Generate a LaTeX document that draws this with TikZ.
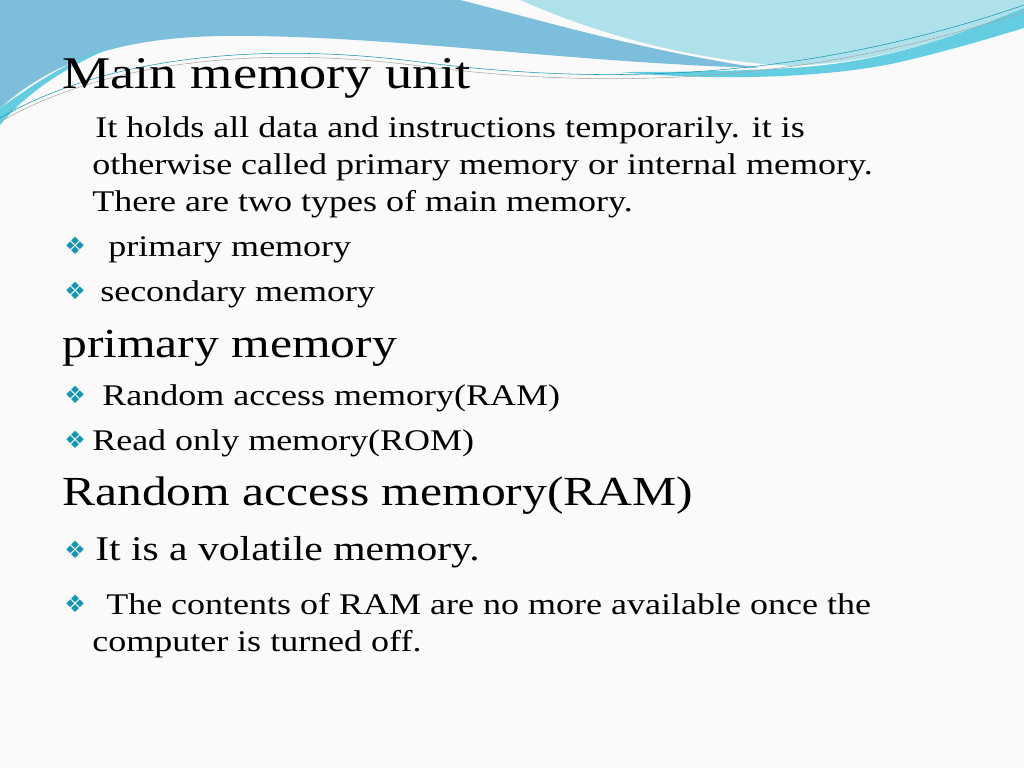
\documentclass[tikz,border=0pt]{standalone}
\usepackage{fontspec}
\setmainfont[FakeStretch=1.2]{Liberation Serif}
\newfontfamily\symf{DejaVu Sans}
\definecolor{bul}{RGB}{20,150,175}
\definecolor{bluea}{RGB}{125,190,220}
\definecolor{blueb}{RGB}{100,205,225}
\definecolor{bluec}{RGB}{175,225,235}
\begin{document}
\begin{tikzpicture}[x=0.75pt,y=-0.75pt,
 body/.style={anchor=base west,inner sep=0pt,font=\fontsize{22.5}{26}\selectfont},
 head/.style={anchor=base west,inner sep=0pt,font=\fontsize{31}{36}\selectfont},
 bl/.style={anchor=base west,inner sep=0pt,text=bul,font=\symf\fontsize{18}{20}\selectfont}]
\useasboundingbox (0,0) rectangle (1024,768);
\fill[white!96!gray] (0,0) rectangle (1024,768);
% banner
\fill[bluea] (0,0) -- (0,108) .. controls (60,55) and (130,38) .. (220,36) .. controls (380,34) and (560,62) .. (760,68) .. controls (640,50) and (540,20) .. (460,0) -- cycle;
\fill[blueb] (0,108) .. controls (40,80) and (70,60) .. (110,48) .. controls (60,70) and (25,95) .. (0,125) -- cycle;
\fill[bluec] (520,0) .. controls (600,35) and (690,60) .. (790,66) .. controls (900,62) and (980,25) .. (1024,8) -- (1024,0) -- cycle;
\fill[blueb] (620,72) .. controls (700,80) and (820,80) .. (900,62) .. controls (960,48) and (1000,35) .. (1024,28) -- (1024,8) .. controls (980,25) and (900,62) .. (790,68) .. controls (720,72) and (660,72) .. (620,72) -- cycle;
\draw[bul,thin] (0,118) .. controls (100,60) and (250,40) .. (420,62) .. controls (600,85) and (800,82) .. (1024,5);
\draw[gray!70,thin] (0,122) .. controls (100,64) and (250,44) .. (420,66) .. controls (600,89) and (800,86) .. (1024,12);
\node[head,font=\fontsize{34}{40}\selectfont] (t1) at (62,88) {Main memory unit};
\node[body] (l1) at (95,137) {It holds all data and instructions temporarily. it is};
\node[body] (l2) at (92,174) {otherwise called primary memory or internal memory.};
\node[body] (l3) at (92,211) {There are two types of main memory.};
\node[bl] (b1) at (64,254) {❖};
\node[body] (p1) at (108,256) {primary memory};
\node[bl] (b2) at (64,299) {❖};
\node[body] (p2) at (100,301) {secondary memory};
\node[head] (t2) at (62,357) {primary memory};
\node[bl] (b3) at (64,403) {❖};
\node[body] (r1) at (102,405) {Random access memory(RAM)};
\node[bl] (b4) at (64,448) {❖};
\node[body] (r2) at (92,450) {Read only memory(ROM)};
\node[head] (t3) at (62,505) {Random access memory(RAM)};
\node[bl] (b5) at (64,558) {❖};
\node[body,font=\fontsize{26}{30}\selectfont] (v1) at (95,560) {It is a volatile memory.};
\node[bl] (b6) at (64,612) {❖};
\node[body] (v2) at (106,614) {The contents of RAM are no more available once the};
\node[body] (v3) at (92,651) {computer is turned off.};
\end{tikzpicture}
\end{document}
